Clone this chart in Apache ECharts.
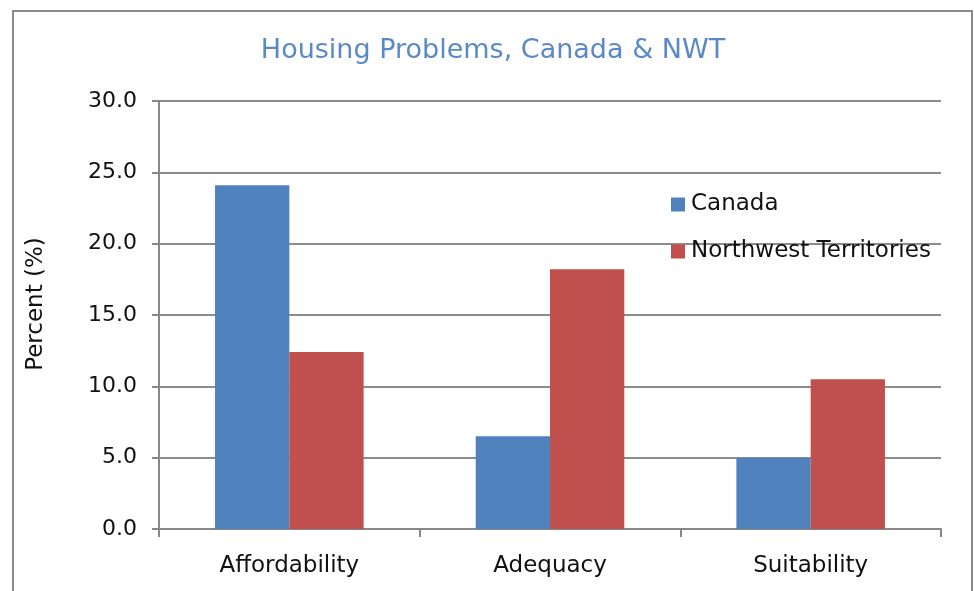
<!DOCTYPE html>
<html>
<head>
<meta charset="utf-8">
<script src="https://cdn.jsdelivr.net/npm/echarts@6/dist/echarts.min.js"></script>
<style>
  html, body { margin: 0; padding: 0; background: #fff; }
  #main { width: 974px; height: 591px; }
</style>
</head>
<body>
<div id="main"></div>
<script>
// data
var categories = ['Affordability', 'Adequacy', 'Suitability'];
var canada = [24.1, 6.5, 5.0];
var nwt = [12.4, 18.2, 10.5];
var seriesNames = ['Canada', 'Northwest Territories'];

var FONT = 'DejaVu Sans';
var myChart = echarts.init(document.getElementById('main'));

var option = {
  backgroundColor: '#fff',
  animation: false,
  title: {
    text: 'Housing Problems, Canada & NWT',
    left: 488,
    textAlign: 'center',
    top: 32,
    textStyle: { color: '#5a8ac6', fontFamily: FONT, fontSize: 27, fontWeight: 'normal' }
  },
  legend: {
    orient: 'vertical',
    left: 666,
    top: 188,
    itemWidth: 14,
    itemHeight: 14,
    itemGap: 24,
    icon: 'rect',
    textStyle: { color: '#111', fontFamily: FONT, fontSize: 23, padding: [0, 0, 0, 1] },
    data: seriesNames
  },
  grid: { left: 159, right: 33, top: 101, bottom: 62, containLabel: false },
  xAxis: {
    type: 'category',
    data: categories,
    axisLine: { lineStyle: { color: '#888', width: 2 } },
    axisTick: { show: true, length: 8, lineStyle: { color: '#888', width: 2 } },
    axisLabel: { color: '#111', fontFamily: FONT, fontSize: 23, margin: 26 }
  },
  yAxis: {
    type: 'value',
    min: 0,
    max: 30,
    interval: 5,
    name: 'Percent (%)',
    nameLocation: 'middle',
    nameGap: 111,
    nameTextStyle: { color: '#111', fontFamily: FONT, fontSize: 23, padding: [0, 0, 0, 22] },
    axisLine: { show: true, lineStyle: { color: '#888', width: 2 } },
    axisTick: { show: true, length: 7, lineStyle: { color: '#888', width: 2 } },
    splitLine: { lineStyle: { color: '#8c8c8c', width: 2 } },
    axisLabel: {
      color: '#111', fontFamily: FONT, fontSize: 22, margin: 22,
      formatter: function (v) { return v.toFixed(1); }
    }
  },
  series: [
    {
      name: seriesNames[0], type: 'bar', data: canada,
      barGap: '0%', barCategoryGap: '43%',
      itemStyle: { color: '#4f81bd' }
    },
    {
      name: seriesNames[1], type: 'bar', data: nwt,
      itemStyle: { color: '#c0504d' }
    }
  ],
  graphic: [{
    type: 'rect',
    shape: { x: 13, y: 11, width: 959, height: 600 },
    style: { fill: 'none', stroke: '#8a8a8a', lineWidth: 2 },
    silent: true
  }]
};

myChart.setOption(option);
</script>
</body>
</html>
